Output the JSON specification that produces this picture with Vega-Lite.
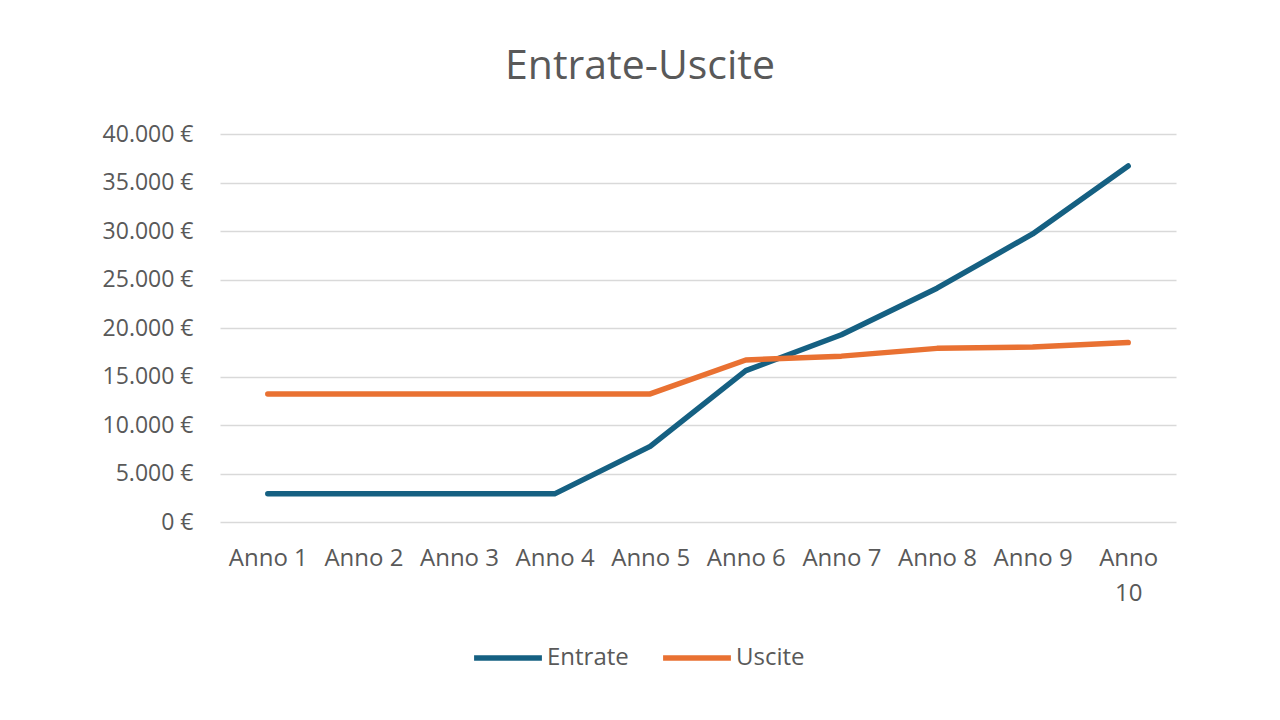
{
  "$schema": "https://vega.github.io/schema/vega-lite/v6.json",
  "width": 956,
  "height": 388,
  "autosize": {"type": "none"},
  "padding": {"left": 220, "top": 134, "right": 104, "bottom": 198},
  "background": "white",
  "title": {
    "text": "Entrate-Uscite",
    "fontSize": 41,
    "font": "Open Sans",
    "fontWeight": "normal",
    "color": "#595959",
    "anchor": "middle",
    "dx": -58,
    "offset": 35
  },
  "data": {
    "values": [
      {"anno": "Anno 1", "serie": "Entrate", "valore": 2900},
      {"anno": "Anno 2", "serie": "Entrate", "valore": 2900},
      {"anno": "Anno 3", "serie": "Entrate", "valore": 2900},
      {"anno": "Anno 4", "serie": "Entrate", "valore": 2900},
      {"anno": "Anno 5", "serie": "Entrate", "valore": 7800},
      {"anno": "Anno 6", "serie": "Entrate", "valore": 15600},
      {"anno": "Anno 7", "serie": "Entrate", "valore": 19300},
      {"anno": "Anno 8", "serie": "Entrate", "valore": 24100},
      {"anno": "Anno 9", "serie": "Entrate", "valore": 29700},
      {"anno": "Anno 10", "serie": "Entrate", "valore": 36700},
      {"anno": "Anno 1", "serie": "Uscite", "valore": 13200},
      {"anno": "Anno 2", "serie": "Uscite", "valore": 13200},
      {"anno": "Anno 3", "serie": "Uscite", "valore": 13200},
      {"anno": "Anno 4", "serie": "Uscite", "valore": 13200},
      {"anno": "Anno 5", "serie": "Uscite", "valore": 13200},
      {"anno": "Anno 6", "serie": "Uscite", "valore": 16700},
      {"anno": "Anno 7", "serie": "Uscite", "valore": 17100},
      {"anno": "Anno 8", "serie": "Uscite", "valore": 17900},
      {"anno": "Anno 9", "serie": "Uscite", "valore": 18050},
      {"anno": "Anno 10", "serie": "Uscite", "valore": 18500}
    ]
  },
  "mark": {"type": "line", "strokeWidth": 5.5, "strokeCap": "round", "strokeJoin": "round"},
  "encoding": {
    "x": {
      "field": "anno",
      "type": "ordinal",
      "sort": null,
      "scale": {"type": "point", "padding": 0.5},
      "axis": {
        "title": null,
        "labelAngle": 0,
        "ticks": false,
        "domain": false,
        "grid": false,
        "labelPadding": 24,
        "labelFontSize": 24,
        "labelLineHeight": 35,
        "labelExpr": "datum.label == 'Anno 10' ? ['Anno', '10'] : datum.label"
      }
    },
    "y": {
      "field": "valore",
      "type": "quantitative",
      "scale": {"domain": [0, 40000], "nice": false},
      "axis": {
        "title": null,
        "values": [0, 5000, 10000, 15000, 20000, 25000, 30000, 35000, 40000],
        "ticks": false,
        "domain": false,
        "labelPadding": 27,
        "labelFontSize": 23,
        "labelExpr": "replace(format(datum.value, ','), ',', '.') + ' €'"
      }
    },
    "color": {
      "field": "serie",
      "type": "nominal",
      "scale": {"domain": ["Entrate", "Uscite"], "range": ["#156082", "#E97132"]},
      "legend": {
        "title": null,
        "orient": "none",
        "direction": "horizontal",
        "legendX": 251,
        "legendY": 487,
        "symbolType": "stroke",
        "symbolSize": 4600,
        "symbolStrokeWidth": 5.5,
        "labelFontSize": 24,
        "labelOffset": 2,
        "columnPadding": 23
      }
    }
  },
  "config": {
    "font": "Open Sans",
    "view": {"stroke": null},
    "axis": {
      "labelColor": "#595959",
      "labelFont": "Open Sans",
      "gridColor": "#D9D9D9",
      "gridWidth": 1.5
    },
    "legend": {"labelColor": "#595959", "labelFont": "Open Sans"}
  }
}
